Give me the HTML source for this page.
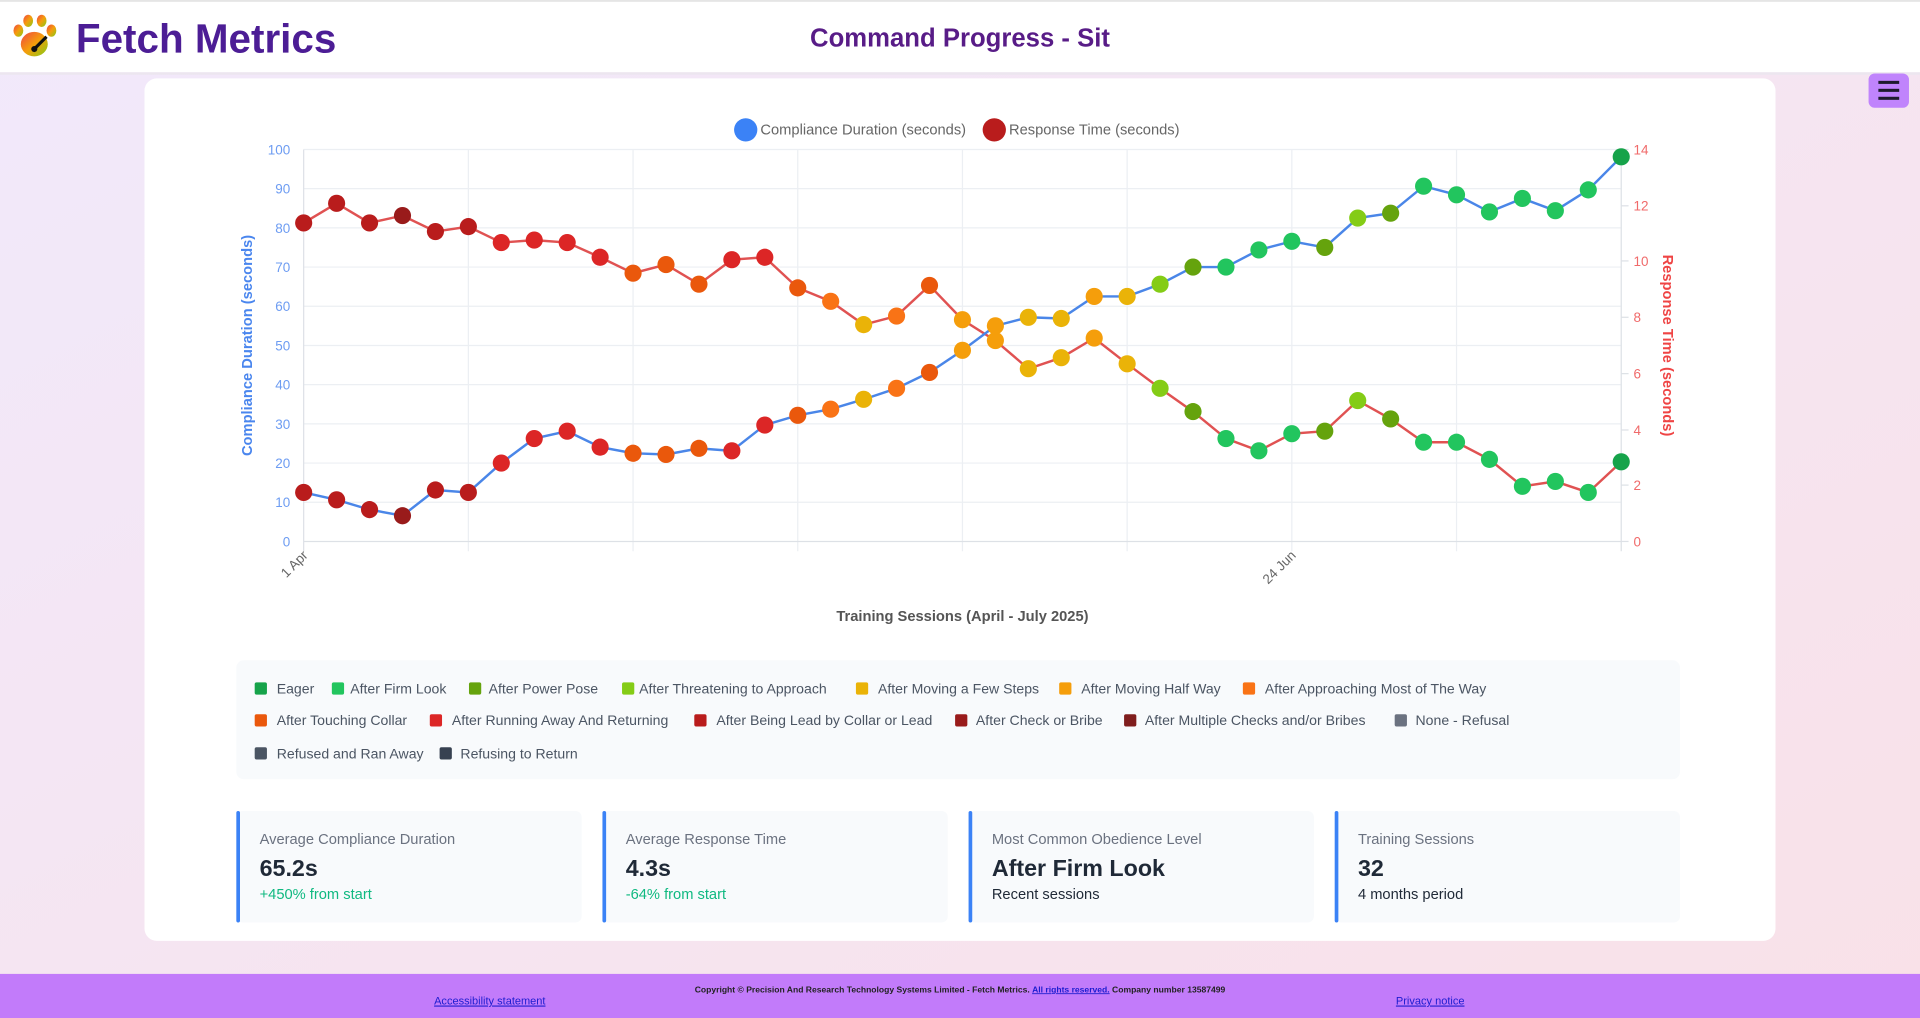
<!DOCTYPE html>
<html><head><meta charset="utf-8">
<style>
html,body{margin:0;padding:0;width:1920px;height:1018px;overflow:hidden;}
svg{display:block;}
text{font-family:"Liberation Sans",sans-serif;}
</style></head>
<body>
<svg width="1920" height="1018" viewBox="0 0 1568 831" preserveAspectRatio="none" xmlns="http://www.w3.org/2000/svg">
<defs>
<linearGradient id="bg" x1="0" y1="0" x2="1" y2="1">
<stop offset="0" stop-color="#f1e9fb"/><stop offset="1" stop-color="#f9e1e8"/>
</linearGradient>
<linearGradient id="paw" x1="0" y1="0" x2="1" y2="1">
<stop offset="0" stop-color="#ef4444"/><stop offset="0.5" stop-color="#f59e0b"/><stop offset="1" stop-color="#84cc16"/>
</linearGradient>
</defs>
<rect width="1568" height="831" fill="url(#bg)"/>
<rect x="0" y="0" width="1568" height="59" fill="#fff"/>
<rect x="0" y="0" width="1568" height="1.5" fill="#e5e5e5"/>
<rect x="0" y="59" width="1568" height="2" fill="#ece6ef"/>
<g fill="url(#paw)">
<ellipse cx="28" cy="36" rx="11" ry="10"/>
<ellipse cx="15" cy="25" rx="4" ry="5"/>
<ellipse cx="23" cy="17" rx="4" ry="5"/>
<ellipse cx="34" cy="17" rx="4" ry="5"/>
<ellipse cx="42" cy="25" rx="4" ry="5"/>
</g>
<line x1="28" y1="40" x2="38" y2="30" stroke="#111" stroke-width="2.5"/>
<circle cx="28" cy="40" r="2.5" fill="#111"/>
<text x="62" y="43" font-size="33" font-weight="bold" fill="#4c1d95">Fetch Metrics</text>
<text x="784" y="38" font-size="21" font-weight="bold" fill="#581c87" text-anchor="middle">Command Progress - Sit</text>
<rect x="1526" y="60" width="33" height="28" rx="5" fill="#c084fc"/>
<g fill="#1e1b2e"><rect x="1534" y="66" width="17" height="2.5"/><rect x="1534" y="72.5" width="17" height="2.5"/><rect x="1534" y="79" width="17" height="2.5"/></g>
<rect x="118" y="64" width="1332" height="704" rx="10" fill="#fff"/>
<circle cx="609" cy="106" r="9.5" fill="#3b82f6"/>
<text x="621" y="110" font-size="12" fill="#666">Compliance Duration (seconds)</text>
<circle cx="812" cy="106" r="9.5" fill="#b91c1c"/>
<text x="824" y="110" font-size="12" fill="#666">Response Time (seconds)</text>
<g stroke="#eceff3" stroke-width="1">
<line x1="248" y1="122" x2="1324" y2="122"/><line x1="248" y1="154" x2="1324" y2="154"/><line x1="248" y1="186" x2="1324" y2="186"/><line x1="248" y1="218" x2="1324" y2="218"/><line x1="248" y1="250" x2="1324" y2="250"/><line x1="248" y1="282" x2="1324" y2="282"/><line x1="248" y1="314" x2="1324" y2="314"/><line x1="248" y1="346" x2="1324" y2="346"/><line x1="248" y1="378" x2="1324" y2="378"/><line x1="248" y1="410" x2="1324" y2="410"/>
<line x1="382.5" y1="122" x2="382.5" y2="450"/><line x1="517" y1="122" x2="517" y2="450"/><line x1="651.5" y1="122" x2="651.5" y2="450"/><line x1="786" y1="122" x2="786" y2="450"/><line x1="920.5" y1="122" x2="920.5" y2="450"/><line x1="1055" y1="122" x2="1055" y2="450"/><line x1="1189.5" y1="122" x2="1189.5" y2="450"/>
</g>
<g stroke="#dde1e6" stroke-width="1">
<line x1="248" y1="442" x2="1324" y2="442"/>
<line x1="248" y1="122" x2="248" y2="450"/>
<line x1="1324" y1="122" x2="1324" y2="450"/>
<line x1="1324" y1="122" x2="1330" y2="122"/><line x1="1324" y1="168" x2="1330" y2="168"/><line x1="1324" y1="213" x2="1330" y2="213"/><line x1="1324" y1="259" x2="1330" y2="259"/><line x1="1324" y1="305" x2="1330" y2="305"/><line x1="1324" y1="351" x2="1330" y2="351"/><line x1="1324" y1="396" x2="1330" y2="396"/><line x1="1324" y1="442" x2="1330" y2="442"/>
</g>
<g font-size="11" fill="#6d9cf2" text-anchor="end">
<text x="237" y="126">100</text><text x="237" y="158">90</text><text x="237" y="190">80</text><text x="237" y="222">70</text><text x="237" y="254">60</text><text x="237" y="286">50</text><text x="237" y="318">40</text><text x="237" y="350">30</text><text x="237" y="382">20</text><text x="237" y="414">10</text><text x="237" y="446">0</text>
</g>
<g font-size="11" fill="#f06a6a">
<text x="1334" y="126">14</text><text x="1334" y="172">12</text><text x="1334" y="217">10</text><text x="1334" y="263">8</text><text x="1334" y="309">6</text><text x="1334" y="355">4</text><text x="1334" y="400">2</text><text x="1334" y="446">0</text>
</g>
<text transform="translate(206,282) rotate(-90)" font-size="12" font-weight="bold" fill="#4a86ee" text-anchor="middle">Compliance Duration (seconds)</text>
<text transform="translate(1358,282) rotate(90)" font-size="12" font-weight="bold" fill="#ef4444" text-anchor="middle">Response Time (seconds)</text>
<text transform="translate(252,454) rotate(-45)" font-size="11" fill="#666" text-anchor="end">1 Apr</text>
<text transform="translate(1059,454) rotate(-45)" font-size="11" fill="#666" text-anchor="end">24 Jun</text>
<text x="786" y="507" font-size="12" font-weight="bold" fill="#555" text-anchor="middle">Training Sessions (April - July 2025)</text>
<polyline fill="none" stroke="#e05252" stroke-width="2" points="248,182 274.9,166 301.8,182 328.7,176 355.6,189 382.5,185 409.4,198 436.3,196 463.2,198 490.1,210 517,223 543.9,216 570.8,232 597.7,212 624.6,210 651.5,235 678.4,246 705.3,265 732.2,258 759.1,233 786,261 812.9,278 839.8,301 866.7,292 893.6,276 920.5,297 947.4,317 974.3,336 1001.2,358 1028.1,368 1055,354 1081.9,352 1108.8,327 1135.7,342 1162.6,361 1189.5,361 1216.4,375 1243.3,397 1270.2,393 1297.1,402 1324,377"/>
<polyline fill="none" stroke="#4a86e8" stroke-width="2" points="248,402 274.9,408 301.8,416 328.7,421 355.6,400 382.5,402 409.4,378 436.3,358 463.2,352 490.1,365 517,370 543.9,371 570.8,366 597.7,368 624.6,347 651.5,339 678.4,334 705.3,326 732.2,317 759.1,304 786,286 812.9,266 839.8,259 866.7,260 893.6,242 920.5,242 947.4,232 974.3,218 1001.2,218 1028.1,204 1055,197 1081.9,202 1108.8,178 1135.7,174 1162.6,152 1189.5,159 1216.4,173 1243.3,162 1270.2,172 1297.1,155 1324,128"/>
<g>
<circle cx="248" cy="182" r="7" fill="#b91c1c"/><circle cx="274.9" cy="166" r="7" fill="#b91c1c"/><circle cx="301.8" cy="182" r="7" fill="#b91c1c"/><circle cx="328.7" cy="176" r="7" fill="#991b1b"/><circle cx="355.6" cy="189" r="7" fill="#b91c1c"/><circle cx="382.5" cy="185" r="7" fill="#b91c1c"/><circle cx="409.4" cy="198" r="7" fill="#dc2626"/><circle cx="436.3" cy="196" r="7" fill="#dc2626"/><circle cx="463.2" cy="198" r="7" fill="#dc2626"/><circle cx="490.1" cy="210" r="7" fill="#dc2626"/><circle cx="517" cy="223" r="7" fill="#ea580c"/><circle cx="543.9" cy="216" r="7" fill="#ea580c"/><circle cx="570.8" cy="232" r="7" fill="#ea580c"/><circle cx="597.7" cy="212" r="7" fill="#dc2626"/><circle cx="624.6" cy="210" r="7" fill="#dc2626"/><circle cx="651.5" cy="235" r="7" fill="#ea580c"/><circle cx="678.4" cy="246" r="7" fill="#f97316"/><circle cx="705.3" cy="265" r="7" fill="#eab308"/><circle cx="732.2" cy="258" r="7" fill="#f97316"/><circle cx="759.1" cy="233" r="7" fill="#ea580c"/><circle cx="786" cy="261" r="7" fill="#f59e0b"/><circle cx="812.9" cy="278" r="7" fill="#f59e0b"/><circle cx="839.8" cy="301" r="7" fill="#eab308"/><circle cx="866.7" cy="292" r="7" fill="#eab308"/><circle cx="893.6" cy="276" r="7" fill="#f59e0b"/><circle cx="920.5" cy="297" r="7" fill="#eab308"/><circle cx="947.4" cy="317" r="7" fill="#84cc16"/><circle cx="974.3" cy="336" r="7" fill="#65a30d"/><circle cx="1001.2" cy="358" r="7" fill="#22c55e"/><circle cx="1028.1" cy="368" r="7" fill="#22c55e"/><circle cx="1055" cy="354" r="7" fill="#22c55e"/><circle cx="1081.9" cy="352" r="7" fill="#65a30d"/><circle cx="1108.8" cy="327" r="7" fill="#84cc16"/><circle cx="1135.7" cy="342" r="7" fill="#65a30d"/><circle cx="1162.6" cy="361" r="7" fill="#22c55e"/><circle cx="1189.5" cy="361" r="7" fill="#22c55e"/><circle cx="1216.4" cy="375" r="7" fill="#22c55e"/><circle cx="1243.3" cy="397" r="7" fill="#22c55e"/><circle cx="1270.2" cy="393" r="7" fill="#22c55e"/><circle cx="1297.1" cy="402" r="7" fill="#22c55e"/><circle cx="1324" cy="377" r="7" fill="#16a34a"/>
</g>
<g>
<circle cx="248" cy="402" r="7" fill="#b91c1c"/><circle cx="274.9" cy="408" r="7" fill="#b91c1c"/><circle cx="301.8" cy="416" r="7" fill="#b91c1c"/><circle cx="328.7" cy="421" r="7" fill="#991b1b"/><circle cx="355.6" cy="400" r="7" fill="#b91c1c"/><circle cx="382.5" cy="402" r="7" fill="#b91c1c"/><circle cx="409.4" cy="378" r="7" fill="#dc2626"/><circle cx="436.3" cy="358" r="7" fill="#dc2626"/><circle cx="463.2" cy="352" r="7" fill="#dc2626"/><circle cx="490.1" cy="365" r="7" fill="#dc2626"/><circle cx="517" cy="370" r="7" fill="#ea580c"/><circle cx="543.9" cy="371" r="7" fill="#ea580c"/><circle cx="570.8" cy="366" r="7" fill="#ea580c"/><circle cx="597.7" cy="368" r="7" fill="#dc2626"/><circle cx="624.6" cy="347" r="7" fill="#dc2626"/><circle cx="651.5" cy="339" r="7" fill="#ea580c"/><circle cx="678.4" cy="334" r="7" fill="#f97316"/><circle cx="705.3" cy="326" r="7" fill="#eab308"/><circle cx="732.2" cy="317" r="7" fill="#f97316"/><circle cx="759.1" cy="304" r="7" fill="#ea580c"/><circle cx="786" cy="286" r="7" fill="#f59e0b"/><circle cx="812.9" cy="266" r="7" fill="#f59e0b"/><circle cx="839.8" cy="259" r="7" fill="#eab308"/><circle cx="866.7" cy="260" r="7" fill="#eab308"/><circle cx="893.6" cy="242" r="7" fill="#f59e0b"/><circle cx="920.5" cy="242" r="7" fill="#eab308"/><circle cx="947.4" cy="232" r="7" fill="#84cc16"/><circle cx="974.3" cy="218" r="7" fill="#65a30d"/><circle cx="1001.2" cy="218" r="7" fill="#22c55e"/><circle cx="1028.1" cy="204" r="7" fill="#22c55e"/><circle cx="1055" cy="197" r="7" fill="#22c55e"/><circle cx="1081.9" cy="202" r="7" fill="#65a30d"/><circle cx="1108.8" cy="178" r="7" fill="#84cc16"/><circle cx="1135.7" cy="174" r="7" fill="#65a30d"/><circle cx="1162.6" cy="152" r="7" fill="#22c55e"/><circle cx="1189.5" cy="159" r="7" fill="#22c55e"/><circle cx="1216.4" cy="173" r="7" fill="#22c55e"/><circle cx="1243.3" cy="162" r="7" fill="#22c55e"/><circle cx="1270.2" cy="172" r="7" fill="#22c55e"/><circle cx="1297.1" cy="155" r="7" fill="#22c55e"/><circle cx="1324" cy="128" r="7" fill="#16a34a"/>
</g>
<rect x="193" y="539" width="1179" height="97" rx="6" fill="#f8fafc"/>
<g font-size="11.5" fill="#4b5563">
<rect x="208" y="557" width="10" height="10" rx="1.5" fill="#16a34a"/><text x="226" y="566">Eager</text>
<rect x="271" y="557" width="10" height="10" rx="1.5" fill="#22c55e"/><text x="286" y="566">After Firm Look</text>
<rect x="383" y="557" width="10" height="10" rx="1.5" fill="#65a30d"/><text x="399" y="566">After Power Pose</text>
<rect x="508" y="557" width="10" height="10" rx="1.5" fill="#84cc16"/><text x="522" y="566">After Threatening to Approach</text>
<rect x="699" y="557" width="10" height="10" rx="1.5" fill="#eab308"/><text x="717" y="566">After Moving a Few Steps</text>
<rect x="865" y="557" width="10" height="10" rx="1.5" fill="#f59e0b"/><text x="883" y="566">After Moving Half Way</text>
<rect x="1015" y="557" width="10" height="10" rx="1.5" fill="#f97316"/><text x="1033" y="566">After Approaching Most of The Way</text>
<rect x="208" y="583" width="10" height="10" rx="1.5" fill="#ea580c"/><text x="226" y="592">After Touching Collar</text>
<rect x="351" y="583" width="10" height="10" rx="1.5" fill="#dc2626"/><text x="369" y="592">After Running Away And Returning</text>
<rect x="567" y="583" width="10" height="10" rx="1.5" fill="#b91c1c"/><text x="585" y="592">After Being Lead by Collar or Lead</text>
<rect x="780" y="583" width="10" height="10" rx="1.5" fill="#991b1b"/><text x="797" y="592">After Check or Bribe</text>
<rect x="918" y="583" width="10" height="10" rx="1.5" fill="#7f1d1d"/><text x="935" y="592">After Multiple Checks and/or Bribes</text>
<rect x="1139" y="583" width="10" height="10" rx="1.5" fill="#6b7280"/><text x="1156" y="592">None - Refusal</text>
<rect x="208" y="610" width="10" height="10" rx="1.5" fill="#4b5563"/><text x="226" y="619">Refused and Ran Away</text>
<rect x="359" y="610" width="10" height="10" rx="1.5" fill="#374151"/><text x="376" y="619">Refusing to Return</text>
</g>
<g>
<rect x="193" y="662" width="282" height="91" rx="5" fill="#f8fafc"/><rect x="193" y="662" width="3" height="91" rx="1.5" fill="#3b82f6"/>
<text x="212" y="689" font-size="12" fill="#6b7280">Average Compliance Duration</text>
<text x="212" y="715" font-size="19" font-weight="bold" fill="#1f2937">65.2s</text>
<text x="212" y="734" font-size="12" fill="#10b981">+450% from start</text>
<rect x="492" y="662" width="282" height="91" rx="5" fill="#f8fafc"/><rect x="492" y="662" width="3" height="91" rx="1.5" fill="#3b82f6"/>
<text x="511" y="689" font-size="12" fill="#6b7280">Average Response Time</text>
<text x="511" y="715" font-size="19" font-weight="bold" fill="#1f2937">4.3s</text>
<text x="511" y="734" font-size="12" fill="#10b981">-64% from start</text>
<rect x="791" y="662" width="282" height="91" rx="5" fill="#f8fafc"/><rect x="791" y="662" width="3" height="91" rx="1.5" fill="#3b82f6"/>
<text x="810" y="689" font-size="12" fill="#6b7280">Most Common Obedience Level</text>
<text x="810" y="715" font-size="19" font-weight="bold" fill="#1f2937">After Firm Look</text>
<text x="810" y="734" font-size="12" fill="#1f2937">Recent sessions</text>
<rect x="1090" y="662" width="282" height="91" rx="5" fill="#f8fafc"/><rect x="1090" y="662" width="3" height="91" rx="1.5" fill="#3b82f6"/>
<text x="1109" y="689" font-size="12" fill="#6b7280">Training Sessions</text>
<text x="1109" y="715" font-size="19" font-weight="bold" fill="#1f2937">32</text>
<text x="1109" y="734" font-size="12" fill="#1f2937">4 months period</text>
</g>
<rect x="0" y="795" width="1568" height="36" fill="#c27bfa"/>
<text x="784" y="810" font-size="7" font-weight="bold" fill="#222" text-anchor="middle">Copyright © Precision And Research Technology Systems Limited - Fetch Metrics. <tspan fill="#1d1dd0" text-decoration="underline">All rights reserved.</tspan> Company number 13587499</text>
<text x="400" y="820" font-size="9" fill="#1d1dd0" text-anchor="middle" text-decoration="underline">Accessibility statement</text>
<text x="1168" y="820" font-size="9" fill="#1d1dd0" text-anchor="middle" text-decoration="underline">Privacy notice</text>
</svg>
</body></html>
